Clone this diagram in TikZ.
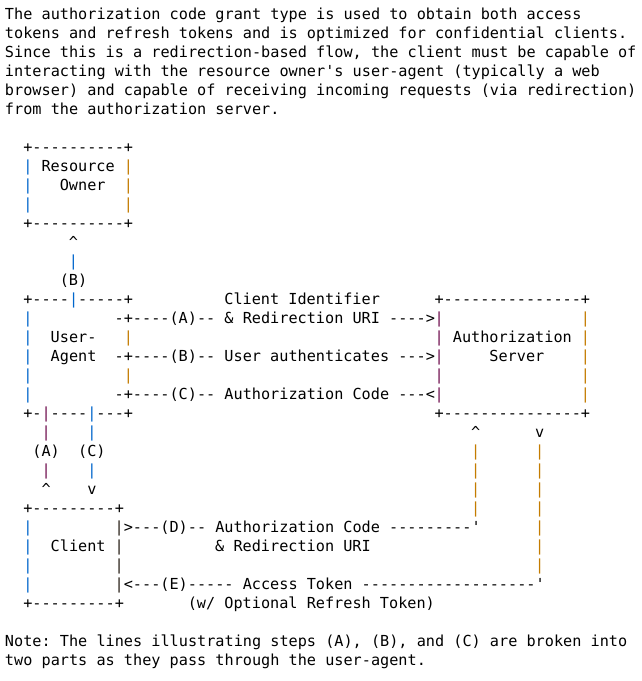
\documentclass[tikz,border=0pt]{standalone}
\usepackage{fontspec}
\setmonofont{DejaVu Sans Mono}
\definecolor{barblue}{RGB}{0,102,204}
\definecolor{barorange}{RGB}{196,124,0}
\definecolor{barpurple}{RGB}{112,16,80}
\definecolor{bardark}{RGB}{40,32,24}
\tikzset{
	txt/.style={anchor=base west, inner sep=0pt, outer sep=0pt, font=\ttfamily\fontsize{15.2}{19}\selectfont},
	bar/.style={txt, text=#1},
}
\newcommand\cbar[1]{\textcolor{#1}{|}}
\begin{document}
\begin{tikzpicture}[x=1pt, y=-1pt, declare function={cw=9.14; lh=19; xo=5; yo=19;}]
	\fill[white] (0,0) rectangle (642,681);
	\useasboundingbox (0,0) rectangle (642,681);
	% text above
	\node[txt] (intro1) at ({xo},{yo+0*lh}) {The authorization code grant type is used to obtain both access};
	\node[txt] (intro2) at ({xo},{yo+1*lh}) {tokens and refresh tokens and is optimized for confidential clients.};
	\node[txt] (intro3) at ({xo},{yo+2*lh}) {Since this is a redirection-based flow, the client must be capable of};
	\node[txt] (intro4) at ({xo},{yo+3*lh}) {interacting with the resource owner's user-agent (typically a web};
	\node[txt] (intro5) at ({xo},{yo+4*lh}) {browser) and capable of receiving incoming requests (via redirection)};
	\node[txt] (intro6) at ({xo},{yo+5*lh}) {from the authorization server.};
	% resource owner
	\node[txt] (roTop) at ({xo+2*cw},{yo+7*lh}) {+----------+};
	\node[txt] (roName) at ({xo+4*cw},{yo+8*lh}) {Resource};
	\node[txt] (roName2) at ({xo+6*cw},{yo+9*lh}) {Owner};
	\node[txt] (roBot) at ({xo+2*cw},{yo+11*lh}) {+----------+};
	\node[txt] (roTip) at ({xo+7*cw},{yo+12*lh}) {\textasciicircum};
	\node[txt] (stepB) at ({xo+6*cw},{yo+14*lh}) {(B)};
	% user-agent and authorization server
	\node[txt] (uaTop) at ({xo+2*cw},{yo+15*lh}) {+----\cbar{barblue}-----+};
	\node[txt] (clientId) at ({xo+24*cw},{yo+15*lh}) {Client Identifier};
	\node[txt] (asTop) at ({xo+47*cw},{yo+15*lh}) {+---------------+};
	\node[txt] (lineA) at ({xo+12*cw},{yo+16*lh}) {-+----(A)-- \& Redirection URI ---->};
	\node[txt] (uaName) at ({xo+5*cw},{yo+17*lh}) {User-};
	\node[txt] (asName) at ({xo+49*cw},{yo+17*lh}) {Authorization};
	\node[txt] (uaName2) at ({xo+5*cw},{yo+18*lh}) {Agent};
	\node[txt] (lineB) at ({xo+12*cw},{yo+18*lh}) {-+----(B)-- User authenticates --->};
	\node[txt] (asName2) at ({xo+53*cw},{yo+18*lh}) {Server};
	\node[txt] (lineC) at ({xo+12*cw},{yo+20*lh}) {-+----(C)-- Authorization Code ---<};
	\node[txt] (uaBot) at ({xo+2*cw},{yo+21*lh}) {+-\cbar{barpurple}----\cbar{barblue}---+};
	\node[txt] (asBot) at ({xo+47*cw},{yo+21*lh}) {+---------------+};
	\node[txt] (asTipD) at ({xo+51*cw},{yo+22*lh}) {\textasciicircum};
	\node[txt] (asTipE) at ({xo+58*cw},{yo+22*lh}) {v};
	\node[txt] (stepA) at ({xo+3*cw},{yo+23*lh}) {(A)};
	\node[txt] (stepC) at ({xo+8*cw},{yo+23*lh}) {(C)};
	\node[txt] (tipA) at ({xo+4*cw},{yo+25*lh}) {\textasciicircum};
	\node[txt] (tipC) at ({xo+9*cw},{yo+25*lh}) {v};
	% client
	\node[txt] (clTop) at ({xo+2*cw},{yo+26*lh}) {+---------+};
	\node[txt] (lineD) at ({xo+13*cw},{yo+27*lh}) {>---(D)-- Authorization Code ---------'};
	\node[txt] (clName) at ({xo+5*cw},{yo+28*lh}) {Client};
	\node[txt] (lineD2) at ({xo+23*cw},{yo+28*lh}) {\& Redirection URI};
	\node[txt] (lineE) at ({xo+13*cw},{yo+30*lh}) {<---(E)----- Access Token -------------------'};
	\node[txt] (clBot) at ({xo+2*cw},{yo+31*lh}) {+---------+};
	\node[txt] (lineE2) at ({xo+20*cw},{yo+31*lh}) {(w/ Optional Refresh Token)};
	% vertical bars
	\foreach \c/\k/\rows in {2/barblue/{8,9,10,16,17,18,19,20,27,28,29,30}, 13/barorange/{8,9,10,17,19}, 7/barblue/{13}, 47/barpurple/{16,17,18,19,20}, 63/barorange/{16,17,18,19,20}, 4/barpurple/{22,24}, 9/barblue/{22,24}, 51/barorange/{23,24,25,26}, 58/barorange/{23,24,25,26,27,28,29}, 12/bardark/{27,28,29,30}}{
		\foreach \r in \rows {
			\node[bar=\k] (bar-\r-\c) at ({xo+\c*cw},{yo+\r*lh}) {|};
		}
	}
	% note below
	\node[txt] (note1) at ({xo},{yo+33*lh}) {Note: The lines illustrating steps (A), (B), and (C) are broken into};
	\node[txt] (note2) at ({xo},{yo+34*lh}) {two parts as they pass through the user-agent.};
\end{tikzpicture}
\end{document}
